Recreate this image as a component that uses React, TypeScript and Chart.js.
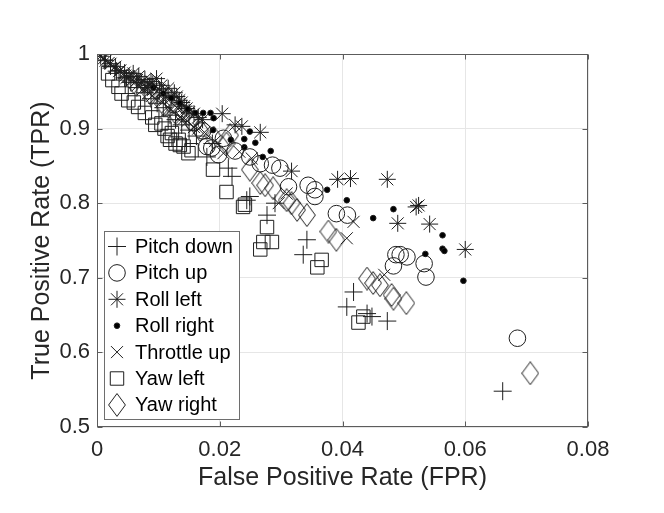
import { useEffect, useRef } from "react";
import { Chart, registerables } from "chart.js";
import { drawPoint } from "chart.js/helpers";

Chart.register(...registerables);

// [FPR, TPR] pairs
const pitchDown: [number, number][] = [
  [0.0012, 0.992], [0.0022, 0.984], [0.0032, 0.977], [0.0045, 0.968], [0.0055, 0.962],
  [0.0065, 0.955], [0.0078, 0.948], [0.0088, 0.94], [0.0098, 0.934], [0.0108, 0.928],
  [0.0119, 0.918], [0.0128, 0.912], [0.0138, 0.905], [0.015, 0.898], [0.0162, 0.89],
  [0.0179, 0.862], [0.0188, 0.88], [0.0214, 0.847], [0.022, 0.836], [0.0244, 0.804],
  [0.0249, 0.809], [0.0277, 0.784], [0.029, 0.8], [0.0342, 0.751], [0.0336, 0.731],
  [0.0418, 0.681], [0.0407, 0.661], [0.044, 0.652], [0.0448, 0.648], [0.0473, 0.642],
  [0.0661, 0.548],
];

const pitchUp: [number, number][] = [
  [0.0125, 0.932], [0.0142, 0.92], [0.0158, 0.908], [0.0172, 0.897], [0.0179, 0.876],
  [0.0187, 0.874], [0.0198, 0.865], [0.0206, 0.887], [0.0225, 0.87], [0.0249, 0.862],
  [0.0266, 0.853], [0.0286, 0.851], [0.0298, 0.847], [0.0312, 0.822], [0.0344, 0.824],
  [0.0355, 0.818], [0.0355, 0.809], [0.039, 0.786], [0.0408, 0.784], [0.0483, 0.716],
  [0.0487, 0.731], [0.0494, 0.731], [0.0505, 0.728], [0.0533, 0.719], [0.0536, 0.701],
  [0.0685, 0.619],
];

const rollLeft: [number, number][] = [
  [0.0006, 0.997], [0.0014, 0.991], [0.0022, 0.987], [0.003, 0.983], [0.0038, 0.978],
  [0.0045, 0.975], [0.0048, 0.968], [0.0052, 0.97], [0.0059, 0.974], [0.0065, 0.965],
  [0.0068, 0.97], [0.0072, 0.962], [0.0078, 0.966], [0.0082, 0.955], [0.0085, 0.958],
  [0.0088, 0.963], [0.0091, 0.96], [0.0097, 0.967], [0.0102, 0.952], [0.0105, 0.958],
  [0.0108, 0.948], [0.0112, 0.944], [0.0116, 0.954], [0.0122, 0.942], [0.0126, 0.948],
  [0.013, 0.943], [0.0134, 0.938], [0.0138, 0.935], [0.0142, 0.93], [0.0146, 0.927],
  [0.015, 0.922], [0.0158, 0.92], [0.0165, 0.915], [0.0172, 0.912], [0.0204, 0.92],
  [0.0225, 0.905], [0.0236, 0.903], [0.0266, 0.895], [0.0317, 0.843], [0.0392, 0.832],
  [0.0413, 0.833], [0.0473, 0.832], [0.049, 0.773], [0.052, 0.795], [0.0524, 0.797],
  [0.0542, 0.772], [0.06, 0.738],
];

const rollRight: [number, number][] = [
  [0.0092, 0.955], [0.0108, 0.947], [0.0121, 0.941], [0.0135, 0.934], [0.0148, 0.926],
  [0.016, 0.921], [0.0173, 0.921], [0.0185, 0.921], [0.019, 0.914], [0.0189, 0.898],
  [0.0218, 0.885], [0.024, 0.886], [0.0249, 0.896], [0.0258, 0.881], [0.024, 0.875],
  [0.0283, 0.87], [0.027, 0.862], [0.0375, 0.818], [0.0407, 0.804], [0.045, 0.78],
  [0.0483, 0.792], [0.0535, 0.732], [0.0563, 0.757], [0.0563, 0.739], [0.0566, 0.736],
  [0.0597, 0.696],
];

const throttleUp: [number, number][] = [
  [0.0004, 0.998], [0.0011, 0.994], [0.0019, 0.988], [0.0028, 0.982], [0.0036, 0.977],
  [0.0046, 0.971], [0.0056, 0.964], [0.0062, 0.962], [0.0066, 0.958], [0.0075, 0.953],
  [0.008, 0.955], [0.0084, 0.948], [0.009, 0.944], [0.0095, 0.941], [0.0105, 0.936],
  [0.011, 0.938], [0.0115, 0.929], [0.012, 0.925], [0.0126, 0.922], [0.013, 0.928],
  [0.0136, 0.916], [0.014, 0.912], [0.0147, 0.91], [0.0158, 0.902], [0.0165, 0.9],
  [0.0175, 0.895], [0.0192, 0.883], [0.0206, 0.867], [0.0232, 0.869], [0.0252, 0.86],
  [0.0296, 0.8], [0.0309, 0.813], [0.0407, 0.753], [0.0418, 0.775], [0.0468, 0.704],
];

const yawLeft: [number, number][] = [
  [0.0018, 0.974], [0.0025, 0.965], [0.0035, 0.956], [0.004, 0.947], [0.0051, 0.938],
  [0.006, 0.935], [0.0067, 0.929], [0.0078, 0.921], [0.009, 0.915], [0.0095, 0.905],
  [0.0105, 0.907], [0.011, 0.9], [0.0115, 0.89], [0.0119, 0.885], [0.0122, 0.894],
  [0.0128, 0.88], [0.0133, 0.885], [0.0135, 0.878], [0.0141, 0.876], [0.0149, 0.867],
  [0.0154, 0.871], [0.0189, 0.845], [0.0211, 0.815], [0.0238, 0.795], [0.0241, 0.798],
  [0.0277, 0.768], [0.0271, 0.748], [0.0285, 0.748], [0.0266, 0.738], [0.0359, 0.714],
  [0.0366, 0.724], [0.0426, 0.64], [0.0434, 0.648],
];

const yawRight: [number, number][] = [
  [0.006, 0.962], [0.0088, 0.946], [0.0108, 0.933], [0.0128, 0.921], [0.0152, 0.912],
  [0.0168, 0.898], [0.019, 0.888], [0.0211, 0.88], [0.0217, 0.891], [0.0249, 0.845],
  [0.0266, 0.827], [0.0274, 0.824], [0.0287, 0.82], [0.0309, 0.804], [0.0317, 0.8],
  [0.0326, 0.791], [0.0342, 0.784], [0.0377, 0.762], [0.039, 0.751], [0.044, 0.699],
  [0.045, 0.693], [0.0461, 0.69], [0.048, 0.677], [0.0483, 0.672], [0.0504, 0.666],
  [0.0706, 0.572],
];

const seriesLabels = ["Pitch down", "Pitch up", "Roll left", "Roll right", "Throttle up", "Yaw left", "Yaw right"];
const xTickLabels = ["0", "0.02", "0.04", "0.06", "0.08"];
const yTickLabels = ["0.5", "0.6", "0.7", "0.8", "0.9", "1"];

const FONT = "'Liberation Sans', Arial, Helvetica, sans-serif";
const INK = "#1e1e1e";

// MATLAB's diamond is taller than wide, so draw it on a little canvas
function makeDiamond(): HTMLCanvasElement {
  const c = document.createElement("canvas");
  c.width = 18;
  c.height = 24;
  const g = c.getContext("2d")!;
  g.strokeStyle = INK;
  g.lineWidth = 1;
  g.beginPath();
  g.moveTo(9, 0.6);
  g.lineTo(17.4, 12);
  g.lineTo(9, 23.4);
  g.lineTo(0.6, 12);
  g.closePath();
  g.stroke();
  return c;
}

const framePlugin = {
  id: "matlabFrame",
  afterDatasetsDraw(chart: any) {
    const { ctx, chartArea: a, scales } = chart;
    ctx.save();
    ctx.strokeStyle = "#5c5c5c";
    ctx.lineWidth = 1;
    const line = (x1: number, y1: number, x2: number, y2: number) => {
      ctx.beginPath();
      ctx.moveTo(x1, y1);
      ctx.lineTo(x2, y2);
      ctx.stroke();
    };
    const L = Math.round(a.left) + 0.5;
    const R = Math.round(a.right) - 0.5;
    const T = Math.round(a.top) + 0.5;
    const B = Math.round(a.bottom) - 0.5;
    ctx.strokeRect(L, T, R - L, B - T);
    const tl = 5;
    scales.x.ticks.forEach((t: any) => {
      const px = Math.round(scales.x.getPixelForValue(t.value)) + 0.5;
      line(px, B, px, B - tl);
      line(px, T, px, T + tl);
    });
    scales.y.ticks.forEach((t: any) => {
      const py = Math.round(scales.y.getPixelForValue(t.value)) + 0.5;
      line(L, py, L + tl, py);
      line(R, py, R - tl, py);
    });

    // legend box inside the axes, lower left
    const bx = 104.5, by = 231.5, bw = 135, bh = 188;
    ctx.fillStyle = "#ffffff";
    ctx.fillRect(bx, by, bw, bh);
    ctx.strokeStyle = "#6e6e6e";
    ctx.strokeRect(bx, by, bw, bh);
    ctx.font = `20px ${FONT}`;
    ctx.textBaseline = "middle";
    ctx.textAlign = "left";
    chart.data.datasets.forEach((ds: any, i: number) => {
      const cy = 246.5 + i * 26.4;
      ctx.strokeStyle = INK;
      ctx.fillStyle = ds.pointBackgroundColor;
      drawPoint(ctx, { pointStyle: ds.pointStyle, radius: ds.pointRadius, borderWidth: 1, rotation: 0 }, 117, cy);
      ctx.fillStyle = "#000000";
      ctx.fillText(ds.label, 135, cy + 1);
    });
    ctx.restore();
  },
};

const App = () => {
  const canvasRef = useRef<HTMLCanvasElement>(null);

  useEffect(() => {
    if (!canvasRef.current) return;
    const ctx = canvasRef.current.getContext("2d");
    const diamond = makeDiamond();

    const series = [pitchDown, pitchUp, rollLeft, rollRight, throttleUp, yawLeft, yawRight];
    const styles: any[] = ["cross", "circle", "star", "circle", "crossRot", "rect", diamond];
    const radii = [9, 8.3, 8.5, 2.8, 8.5, 9.5, 12];
    const fills = ["rgba(0,0,0,0)", "rgba(0,0,0,0)", "rgba(0,0,0,0)", "#000000", "rgba(0,0,0,0)", "rgba(0,0,0,0)", "rgba(0,0,0,0)"];

    const chart = new Chart(ctx!, {
      type: "scatter",
      data: {
        datasets: series.map((pts, i) => ({
          label: seriesLabels[i],
          data: pts.map(([x, y]) => ({ x, y })),
          pointStyle: styles[i],
          pointRadius: radii[i],
          pointHoverRadius: radii[i],
          pointBorderWidth: 1,
          pointBorderColor: INK,
          pointBackgroundColor: fills[i],
          showLine: false,
          order: series.length - i,
        })),
      },
      options: {
        animation: false,
        responsive: false,
        events: [],
        layout: { padding: { top: 54, right: 76, left: 0, bottom: 0 } },
        plugins: {
          legend: { display: false },
          tooltip: { enabled: false },
        },
        scales: {
          x: {
            type: "linear",
            min: 0,
            max: 0.08,
            afterFit: (s: any) => {
              s.height = 86;
            },
            afterBuildTicks: (s: any) => {
              s.ticks = xTickLabels.map((t) => ({ value: parseFloat(t) }));
            },
            ticks: {
              callback: (_v: any, i: number) => xTickLabels[i],
              font: { family: FONT, size: 22 },
              color: "#262626",
              padding: 10,
              maxRotation: 0,
            },
            grid: { color: "#e6e6e6", drawTicks: false },
            border: { display: false },
            title: {
              display: true,
              text: "False Positive Rate (FPR)",
              font: { family: FONT, size: 25 },
              color: "#262626",
              padding: { top: 0, bottom: 20 },
            },
          },
          y: {
            type: "linear",
            min: 0.5,
            max: 1,
            afterFit: (s: any) => {
              s.width = 97;
            },
            afterBuildTicks: (s: any) => {
              s.ticks = yTickLabels.map((t) => ({ value: parseFloat(t) }));
            },
            ticks: {
              callback: (_v: any, i: number) => yTickLabels[i],
              font: { family: FONT, size: 22 },
              color: "#262626",
              padding: 7,
            },
            grid: { color: "#e6e6e6", drawTicks: false },
            border: { display: false },
            title: {
              display: true,
              text: "True Positive Rate (TPR)",
              font: { family: FONT, size: 25 },
              color: "#262626",
              padding: { top: 27, bottom: 0 },
            },
          },
        },
      },
      plugins: [framePlugin],
    });

    return () => {
      chart.destroy();
    };
  }, []);

  return (
    <div style={{ position: "fixed", left: 0, top: 0, width: 664, height: 513, background: "#fff" }}>
      <canvas ref={canvasRef} width={664} height={513} style={{ width: 664, height: 513 }}></canvas>
    </div>
  );
};

export default App;
